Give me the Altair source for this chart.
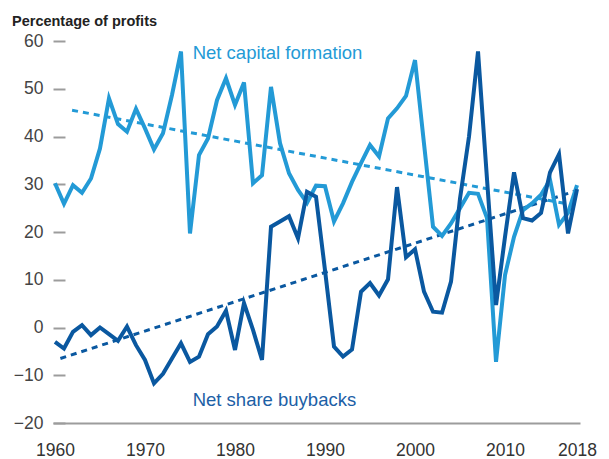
import altair as alt
import pandas as pd

years = list(range(1960, 2019))
capital = [30.2, 25.9, 29.8, 28.2, 31.2, 37.5, 48.0, 42.6, 41.0, 45.8,
           41.7, 37.3, 40.7, 48.7, 57.8, 19.7, 36.1, 39.6, 47.6, 52.2,
           46.6, 51.3, 30.2, 31.9, 50.4, 38.6, 32.3, 28.8, 26.1, 29.7,
           29.6, 22.2, 26.0, 30.5, 34.4, 38.2, 35.8, 43.8, 45.9, 48.5,
           56.0, 38.5, 21.1, 19.2, 21.8, 25.0, 28.2, 28.0, 22.9, -7.2,
           11.0, 19.0, 24.6, 26.0, 27.8, 30.9, 21.5, 24.0, 29.8]
buybacks = [-3.0, -4.4, -0.9, 0.5, -1.6, 0.0, -1.4, -2.8, 0.2, -3.7,
            -6.8, -11.7, -9.7, -6.5, -3.3, -7.2, -6.1, -1.4, 0.2, 3.5,
            -4.7, 5.1, -0.5, -6.8, 21.1, 22.2, 23.3, 18.7, 28.4, 27.4,
            12.0, -4.0, -6.1, -4.6, 7.5, 9.3, 6.7, 10.1, 29.4, 14.7,
            16.4, 7.5, 3.3, 3.1, 9.6, 27.0, 40.0, 57.8, 31.0, 4.7,
            19.0, 32.5, 22.9, 22.4, 24.0, 32.5, 36.3, 19.7, 29.0]

series_names = ["Net capital formation", "Net share buybacks"]
colors = ["#239ad6", "#0a58a0"]
label_colors = ["#239ad6", "#1c60a6"]

trend_years_capital = [1961.9, 2018]
trend_capital = [45.5, 25.5]
trend_years_buybacks = [1960.6, 2018]
trend_buybacks = [-6.5, 28.7]

label_x = [1975.3, 1975.3]
label_y = [57.5, -15.2]

y_ticks = [-20, -10, 0, 10, 20, 30, 40, 50, 60]
x_ticks = [1960, 1970, 1980, 1990, 2000, 2010, 2018]

FONT = "Liberation Sans"

df = pd.DataFrame({
    "year": years * 2,
    "value": capital + buybacks,
    "series": [series_names[0]] * len(years) + [series_names[1]] * len(years),
})
trend_df = pd.DataFrame({
    "year": trend_years_capital + trend_years_buybacks,
    "value": trend_capital + trend_buybacks,
    "series": [series_names[0]] * 2 + [series_names[1]] * 2,
})
label_df = pd.DataFrame({"year": label_x, "value": label_y, "series": series_names})

color_scale = alt.Scale(domain=series_names, range=colors)
label_scale = alt.Scale(domain=series_names, range=label_colors)

x_enc = alt.X("year:Q",
              scale=alt.Scale(domain=[1959.78, 2018.33], nice=False, zero=False),
              axis=alt.Axis(values=x_ticks, format="d", ticks=False, grid=False,
                            domainColor="#9c9c9c", domainWidth=2,
                            labelFontSize=17.5, labelColor="#333333", labelFont=FONT,
                            labelPadding=18, title=None, labelFlush=False))
y_enc = alt.Y("value:Q",
              scale=alt.Scale(domain=[-20, 60], nice=False, zero=False),
              axis=alt.Axis(values=y_ticks, domain=False, grid=False,
                            tickSize=12, tickColor="#9c9c9c", tickWidth=2, offset=-12,
                            labelFontSize=17.5, labelColor="#444444", labelFont=FONT,
                            labelPadding=10, title=None))

lines = alt.Chart(df).mark_line(strokeWidth=4, strokeJoin="miter").encode(
    x=x_enc, y=y_enc,
    color=alt.Color("series:N", scale=color_scale, legend=None),
)
trends = alt.Chart(trend_df).mark_line(strokeWidth=3, strokeDash=[6, 5]).encode(
    x="year:Q", y="value:Q",
    color=alt.Color("series:N", scale=color_scale, legend=None),
)
labels = alt.Chart(label_df).mark_text(align="left", baseline="middle",
                                       fontSize=18.5, font=FONT).encode(
    x="year:Q", y="value:Q", text="series:N",
    stroke=alt.value(None),
    fill=alt.Fill("series:N", scale=label_scale, legend=None),
)

chart = alt.layer(trends, lines, labels).resolve_scale(fill="independent").properties(
    width=527, height=382,
    autosize=alt.AutoSizeParams(type="none"),
    padding={"left": 45, "top": 33, "right": 20, "bottom": 44},
    title=alt.TitleParams("Percentage of profits", anchor="start", frame="group",
                          dx=-41, offset=3, fontSize=14.5, fontWeight="bold",
                          font=FONT, color="#222222"),
).configure_view(stroke=None)

chart.save("out.html", embed_options={"renderer": "svg", "actions": False})
